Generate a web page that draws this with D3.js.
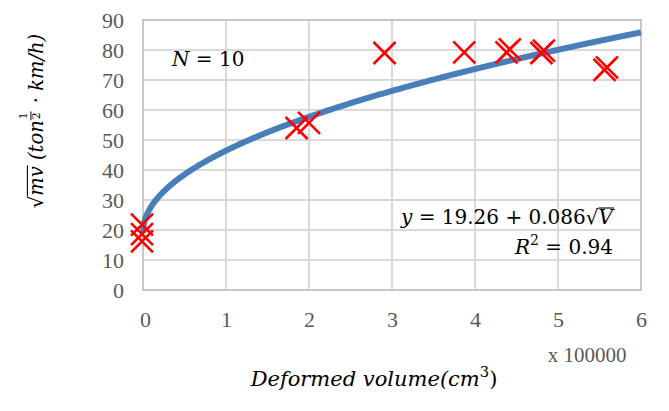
<!DOCTYPE html>
<html>
<head>
<meta charset="utf-8">
<script src="https://cdn.jsdelivr.net/npm/d3@7"></script>
<style>
  html, body { margin: 0; padding: 0; background: #fff; }
  svg { display: block; }
  svg text { white-space: pre; }
</style>
</head>
<body>
<svg id="chart" width="669" height="411"></svg>
<script>
// ---- data (volume in units of 100000 cm^3, sqrt(m)·v) ----
const volumes = [0.0, 0.0, 0.0, 1.85, 2.0, 2.91, 3.87, 4.38, 4.42, 4.80, 4.83, 5.56, 5.59];
const speeds  = [21.8, 18.6, 16.2, 54.0, 55.7, 79.0, 79.2, 79.2, 80.2, 79.0, 79.8, 73.4, 74.2];
const xTicks = [0, 1, 2, 3, 4, 5, 6];
const yTicks = [0, 10, 20, 30, 40, 50, 60, 70, 80, 90];
const fitA = 19.26, fitB = 0.086, xMultiplier = 100000;
const fitXs = d3.range(0, 6.0001, 0.01);

const svg = d3.select("#chart");
const x = d3.scaleLinear().domain([0, 6]).range([143, 641]);
const y = d3.scaleLinear().domain([0, 90]).range([290, 20]);

const grid = svg.append("g");
grid.selectAll(".vg").data(xTicks).join("line")
  .attr("x1", d => x(d)).attr("x2", d => x(d))
  .attr("y1", y(0)).attr("y2", y(90))
  .attr("stroke", "#d9d9d9").attr("stroke-width", 2);
grid.selectAll(".hg").data(yTicks).join("line")
  .attr("x1", x(0)).attr("x2", x(6))
  .attr("y1", d => y(d)).attr("y2", d => y(d))
  .attr("stroke", "#d9d9d9").attr("stroke-width", 2);
svg.append("rect").attr("x", x(0)).attr("y", y(90))
  .attr("width", x(6) - x(0)).attr("height", y(0) - y(90))
  .attr("fill", "none").attr("stroke", "#c8c8c8").attr("stroke-width", 2);

// axes via d3 axis, styled
const tickFont = "'Liberation Serif', 'Times New Roman', serif";
const xAxis = svg.append("g").attr("transform", `translate(0,${y(0)})`)
  .call(d3.axisBottom(x).tickValues(xTicks).tickSize(0).tickPadding(21).tickFormat(d3.format("d")));
const yAxis = svg.append("g").attr("transform", `translate(${x(0)},0)`)
  .call(d3.axisLeft(y).tickValues(yTicks).tickSize(0).tickPadding(19).tickFormat(d3.format("d")));
[xAxis, yAxis].forEach(a => {
  a.attr("font-family", tickFont);
  a.select(".domain").remove();
  a.selectAll("text").attr("font-family", tickFont).attr("font-size", 22).attr("fill", "#595959");
});
xAxis.selectAll(".tick text").attr("dx", (d) => d === 0 ? 2 : 0);

// fit curve
const line = d3.line().x(d => x(d)).y(d => y(fitA + fitB * Math.sqrt(d * xMultiplier)));
svg.append("path").datum(fitXs).attr("d", line)
  .attr("fill", "none").attr("stroke", "#4a7ebb").attr("stroke-width", 6).attr("stroke-linecap", "butt");

// markers
const s = 11;
const marks = svg.append("g");
volumes.forEach((v, i) => {
  const cx = x(v) - (v === 0 ? 1 : 0), cy = y(speeds[i]);
  marks.append("path")
    .attr("d", `M${cx - s},${cy - s}L${cx + s},${cy + s}M${cx - s},${cy + s}L${cx + s},${cy - s}`)
    .attr("stroke", "#ff0000").attr("stroke-width", 2.6).attr("fill", "none");
});

// math text helper: pieces placed sequentially
const mathFont = "'DejaVu Serif', serif";
function mathText(g, pieces, x0, baseline, size, anchor) {
  const grp = g.append("g");
  let cx = 0;
  pieces.forEach(p => {
    const fs = size * (p.scale || 1);
    if (p.frac) {
      const fsz = size * 0.55;
      const a = grp.append("text").attr("x", cx + 1).attr("y", baseline - size * 0.80)
        .attr("font-family", mathFont).attr("font-size", fsz).text("1");
      grp.append("text").attr("x", cx + 1).attr("y", baseline - size * 0.18)
        .attr("font-family", mathFont).attr("font-size", fsz).text("2");
      const fw = a.node().getComputedTextLength();
      grp.append("line").attr("x1", cx).attr("x2", cx + fw + 2)
        .attr("y1", baseline - size * 0.62).attr("y2", baseline - size * 0.62)
        .attr("stroke", "#000").attr("stroke-width", 1);
      cx += fw + 4;
      return;
    }
    const t = grp.append("text").attr("x", cx).attr("y", baseline + (p.dy || 0) * size)
      .attr("font-family", mathFont).attr("font-size", fs)
      .attr("font-style", p.italic ? "italic" : "normal").attr("fill", p.fill || "#000")
      .text(p.t);
    const w = t.node().getComputedTextLength();
    if (p.over) {
      grp.append("line").attr("x1", cx).attr("x2", cx + w + 1)
        .attr("y1", baseline - size * 0.80).attr("y2", baseline - size * 0.80)
        .attr("stroke", "#000").attr("stroke-width", 1.1);
    }
    cx += w + (p.gap || 0);
  });
  const total = cx;
  let shift = x0;
  if (anchor === "middle") shift = x0 - total / 2;
  if (anchor === "end") shift = x0 - total;
  grp.attr("transform", `translate(${shift},0)`);
  return grp;
}

// N = 10
mathText(svg, [{t: "N", italic: true}, {t: " = 10"}], 172, 66, 20, "start");

// equation
mathText(svg, [{t: "y", italic: true}, {t: " = 19.26 + 0.086"}, {t: "√"}, {t: "V", italic: true, over: true}], 613, 224, 20, "end");
mathText(svg, [{t: "R", italic: true}, {t: "2", scale: 0.7, dy: -0.45}, {t: " = 0.94"}], 613, 254, 20, "end");

// x label
mathText(svg, [{t: "Deformed volume(cm", italic: true}, {t: "3", scale: 0.7, dy: -0.45}, {t: ")"}], 374, 386, 21, "middle");
svg.append("text").attr("x", 587).attr("y", 362).attr("text-anchor", "middle")
  .attr("font-family", tickFont).attr("font-size", 21).attr("fill", "#595959").text("x 100000");

// y label (rotated)
const yl = svg.append("g").attr("transform", "translate(43,121) rotate(-90)");
mathText(yl, [{t: "√"}, {t: "mv", italic: true, over: true}, {t: " (ton", italic: true}, {frac: true}, {t: " · km/h)", italic: true}], 0, 0, 19.5, "middle");
</script>
</body>
</html>
